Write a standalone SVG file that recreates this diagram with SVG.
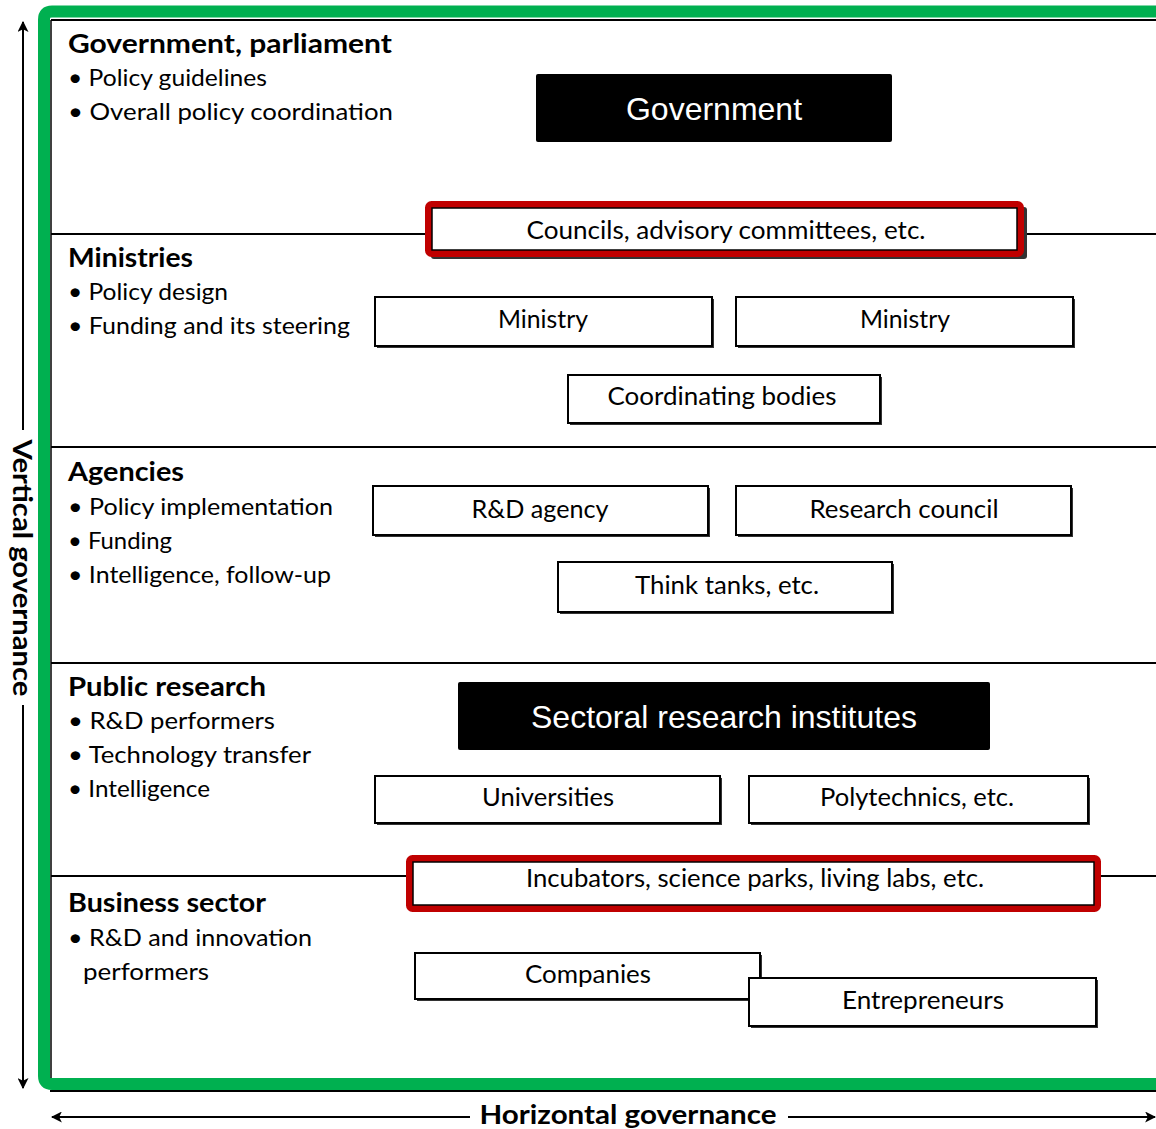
<svg xmlns="http://www.w3.org/2000/svg" width="1156" height="1129" viewBox="0 0 1156 1129">
<defs>
<marker id="ah" viewBox="0 0 10 10" refX="9" refY="5" markerWidth="11" markerHeight="11" orient="auto" markerUnits="userSpaceOnUse">
<path d="M0,0 L10,5 L0,10 L2.5,5 Z" fill="#000"/>
</marker>
<style>
.lbl{font-family:Lato,"Liberation Sans",sans-serif;font-size:24px;fill:#000}
.hd{font-family:Lato,"Liberation Sans",sans-serif;font-size:26px;font-weight:bold;fill:#000}
.bx{font-family:Lato,"Liberation Sans",sans-serif;font-size:25px;fill:#000;text-anchor:middle}
.wt{font-family:"Liberation Sans",Arial,sans-serif;font-size:32px;fill:#fff;text-anchor:middle}
.ax{font-family:Lato,"Liberation Sans",sans-serif;font-size:27px;font-weight:bold;fill:#000;text-anchor:middle}
.box{fill:#fff;stroke:#000;stroke-width:2}
.sh{fill:#333;stroke:none}
.blk{fill:#000}
.red{fill:#fff;stroke:#C00000;stroke-width:7}
.div{stroke:#000;stroke-width:2;fill:none}
.arr{stroke:#000;stroke-width:2;fill:none;marker-end:url(#ah)}
</style>
</defs>
<rect width="1156" height="1129" fill="#fff"/>

<!-- frame -->
<g id="frame">
<line x1="50" y1="1091" x2="1156" y2="1091" stroke="#000" stroke-width="2"/>
<path d="M1160,11.5 H52 Q44,11.5 44,19.5 V1076 Q44,1084 52,1084 H1160" fill="none" stroke="#00B050" stroke-width="12"/>
<line x1="51" y1="20" x2="1156" y2="20" stroke="#000" stroke-width="2"/>
<line x1="51" y1="20" x2="51" y2="1078" stroke="#000" stroke-width="1.5"/>
</g>

<!-- section dividers -->
<g id="dividers">
<line class="div" x1="51" y1="234" x2="426" y2="234"/>
<line class="div" x1="1024" y1="234" x2="1156" y2="234"/>
<line class="div" x1="51" y1="447" x2="1156" y2="447"/>
<line class="div" x1="51" y1="663" x2="1156" y2="663"/>
<line class="div" x1="51" y1="876" x2="408" y2="876"/>
<line class="div" x1="1100" y1="876" x2="1156" y2="876"/>
</g>

<!-- axes -->
<g id="connectors">
<line class="arr" x1="23" y1="430" x2="23" y2="22"/>
<line class="arr" x1="23" y1="705" x2="23" y2="1088"/>
<line class="arr" x1="470" y1="1117" x2="52" y2="1117"/>
<line class="arr" x1="788" y1="1117" x2="1155" y2="1117"/>
</g>
<text class="ax" transform="translate(13,568) rotate(90)" textLength="257" lengthAdjust="spacingAndGlyphs">Vertical governance</text>
<text class="ax" x="628" y="1124" textLength="297" lengthAdjust="spacingAndGlyphs">Horizontal governance</text>

<!-- left labels -->
<g id="level-government">
<text class="hd" x="68" y="53" textLength="324" lengthAdjust="spacingAndGlyphs">Government, parliament</text>
<text class="lbl" x="68" y="86" textLength="199" lengthAdjust="spacingAndGlyphs">• Policy guidelines</text>
<text class="lbl" x="68" y="120" textLength="325" lengthAdjust="spacingAndGlyphs">• Overall policy coordination</text>
</g>
<g id="level-ministries">
<text class="hd" x="68" y="267" textLength="125" lengthAdjust="spacingAndGlyphs">Ministries</text>
<text class="lbl" x="68" y="300" textLength="160" lengthAdjust="spacingAndGlyphs">• Policy design</text>
<text class="lbl" x="68" y="334" textLength="282" lengthAdjust="spacingAndGlyphs">• Funding and its steering</text>
</g>
<g id="level-agencies">
<text class="hd" x="68" y="481" textLength="116" lengthAdjust="spacingAndGlyphs">Agencies</text>
<text class="lbl" x="68" y="515" textLength="265" lengthAdjust="spacingAndGlyphs">• Policy implementation</text>
<text class="lbl" x="68" y="549" textLength="104" lengthAdjust="spacingAndGlyphs">• Funding</text>
<text class="lbl" x="68" y="583" textLength="263" lengthAdjust="spacingAndGlyphs">• Intelligence, follow-up</text>
</g>
<g id="level-public-research">
<text class="hd" x="68" y="696" textLength="198" lengthAdjust="spacingAndGlyphs">Public research</text>
<text class="lbl" x="68" y="729" textLength="207" lengthAdjust="spacingAndGlyphs">• R&amp;D performers</text>
<text class="lbl" x="68" y="763" textLength="243" lengthAdjust="spacingAndGlyphs">• Technology transfer</text>
<text class="lbl" x="68" y="797" textLength="142" lengthAdjust="spacingAndGlyphs">• Intelligence</text>
</g>
<g id="level-business">
<text class="hd" x="68" y="912" textLength="198" lengthAdjust="spacingAndGlyphs">Business sector</text>
<text class="lbl" x="68" y="946" textLength="244" lengthAdjust="spacingAndGlyphs">• R&amp;D and innovation</text>
<text class="lbl" x="83" y="980" textLength="126" lengthAdjust="spacingAndGlyphs">performers</text>
</g>

<!-- nodes -->
<g id="government">
<rect class="blk" x="536" y="74" width="356" height="68" rx="2"/>
<text class="wt" x="714" y="120">Government</text>
</g>
<g id="councils">
<rect class="sh" x="431" y="207" width="596" height="52" rx="3"/>
<rect class="red" x="428.5" y="204.5" width="592" height="49" rx="3"/>
<rect x="432" y="208" width="585" height="42" fill="none" stroke="#000" stroke-width="1.5"/>
<text class="bx" x="726" y="239" textLength="399" lengthAdjust="spacingAndGlyphs">Councils, advisory committees, etc.</text>
</g>
<g id="ministry-1">
<rect class="sh" x="377" y="299" width="337" height="49"/>
<rect class="box" x="375" y="297" width="337" height="49"/>
<text class="bx" x="543" y="328" textLength="90" lengthAdjust="spacingAndGlyphs">Ministry</text>
</g>
<g id="ministry-2">
<rect class="sh" x="738" y="299" width="337" height="49"/>
<rect class="box" x="736" y="297" width="337" height="49"/>
<text class="bx" x="905" y="328" textLength="90" lengthAdjust="spacingAndGlyphs">Ministry</text>
</g>
<g id="coordinating-bodies">
<rect class="sh" x="570" y="377" width="312" height="48"/>
<rect class="box" x="568" y="375" width="312" height="48"/>
<text class="bx" x="722" y="405" textLength="229" lengthAdjust="spacingAndGlyphs">Coordinating bodies</text>
</g>
<g id="rd-agency">
<rect class="sh" x="375" y="488" width="335" height="49"/>
<rect class="box" x="373" y="486" width="335" height="49"/>
<text class="bx" x="540" y="518" textLength="137" lengthAdjust="spacingAndGlyphs">R&amp;D agency</text>
</g>
<g id="research-council">
<rect class="sh" x="738" y="488" width="335" height="49"/>
<rect class="box" x="736" y="486" width="335" height="49"/>
<text class="bx" x="904" y="518" textLength="189" lengthAdjust="spacingAndGlyphs">Research council</text>
</g>
<g id="think-tanks">
<rect class="sh" x="560" y="564" width="334" height="50"/>
<rect class="box" x="558" y="562" width="334" height="50"/>
<text class="bx" x="727" y="594" textLength="184" lengthAdjust="spacingAndGlyphs">Think tanks, etc.</text>
</g>
<g id="sectoral-research-institutes">
<rect class="blk" x="458" y="682" width="532" height="68" rx="2"/>
<text class="wt" x="724" y="728">Sectoral research institutes</text>
</g>
<g id="universities">
<rect class="sh" x="377" y="778" width="345" height="47"/>
<rect class="box" x="375" y="776" width="345" height="47"/>
<text class="bx" x="548" y="806" textLength="132" lengthAdjust="spacingAndGlyphs">Universities</text>
</g>
<g id="polytechnics">
<rect class="sh" x="751" y="778" width="339" height="47"/>
<rect class="box" x="749" y="776" width="339" height="47"/>
<text class="bx" x="917" y="806" textLength="194" lengthAdjust="spacingAndGlyphs">Polytechnics, etc.</text>
</g>
<g id="incubators">
<rect class="red" x="409.5" y="858.5" width="688" height="50" rx="3"/>
<rect x="413" y="862" width="681" height="43" fill="none" stroke="#000" stroke-width="1.5"/>
<text class="bx" x="755" y="887" textLength="458" lengthAdjust="spacingAndGlyphs">Incubators, science parks, living labs, etc.</text>
</g>
<g id="companies">
<rect class="sh" x="417" y="955" width="345" height="46"/>
<rect class="box" x="415" y="953" width="345" height="46"/>
<text class="bx" x="588" y="983" textLength="126" lengthAdjust="spacingAndGlyphs">Companies</text>
</g>
<g id="entrepreneurs">
<rect class="sh" x="751" y="980" width="347" height="48"/>
<rect class="box" x="749" y="978" width="347" height="48"/>
<text class="bx" x="923" y="1009" textLength="162" lengthAdjust="spacingAndGlyphs">Entrepreneurs</text>
</g>
</svg>
